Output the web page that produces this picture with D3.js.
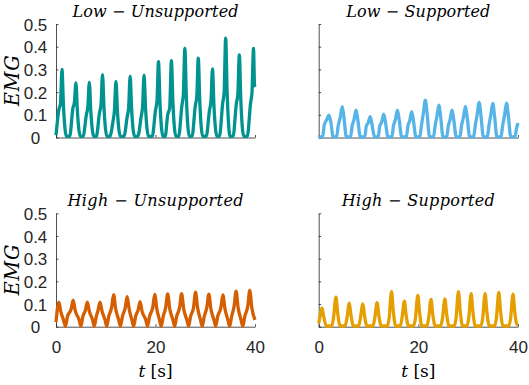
<!DOCTYPE html>
<html><head><meta charset="utf-8">
<script src="https://cdn.jsdelivr.net/npm/d3@7/dist/d3.min.js"></script>
<style>body{margin:0;background:#fff;overflow:hidden}</style>
</head><body>
<svg id="c" width="529" height="385"></svg>
<script>
// ---- data ----
const yTicks = [0, 0.1, 0.2, 0.3, 0.4, 0.5];
const xTicks = [0, 20, 40];
const panelTitles = ["Low \u2212 Unsupported", "Low \u2212 Supported", "High \u2212 Unsupported", "High \u2212 Supported"];

// [t (s), EMG]
const lowUnsupported = [
 [0,0.01],[0.6,0.125],[0.9,0.15],[1.2,0.30],[1.5,0.14],[2.1,0.005],
 [2.75,0.005],[3.4,0.13],[3.7,0.155],[4.0,0.24],[4.3,0.115],[4.9,0.005],
 [5.45,0.005],[6.1,0.10],[6.4,0.135],[6.7,0.243],[7.0,0.115],[7.6,0.005],
 [8.1,0.005],[8.75,0.11],[9.05,0.145],[9.35,0.277],[9.65,0.13],[10.25,0.005],
 [10.8,0.005],[11.45,0.07],[11.75,0.12],[12.05,0.247],[12.35,0.115],[12.95,0.005],
 [13.65,0.005],[14.3,0.09],[14.6,0.13],[14.9,0.27],[15.2,0.125],[15.8,0.005],
 [16.45,0.005],[17.1,0.09],[17.4,0.135],[17.7,0.275],[18.0,0.13],[18.6,0.005],
 [19.35,0.005],[20.0,0.12],[20.3,0.16],[20.6,0.334],[20.9,0.155],[21.5,0.005],
 [21.95,0.005],[22.45,0.10],[22.85,0.13],[23.2,0.338],[23.5,0.155],[24.1,0.005],
 [24.65,0.005],[25.3,0.14],[25.6,0.19],[25.9,0.392],[26.2,0.18],[26.8,0.005],
 [27.35,0.005],[28.0,0.14],[28.3,0.18],[28.6,0.35],[28.9,0.16],[29.5,0.005],
 [30.2,0.005],[30.85,0.12],[31.15,0.16],[31.45,0.302],[31.75,0.14],[32.35,0.005],
 [32.85,0.005],[33.5,0.15],[33.8,0.2],[34.1,0.438],[34.4,0.2],[35.0,0.005],
 [35.6,0.005],[36.25,0.15],[36.55,0.19],[36.85,0.364],[37.15,0.165],[37.75,0.005],
 [38.45,0.005],[39.1,0.15],[39.4,0.2],[39.7,0.392],[39.9,0.23],[40.0,0.222]
];
const lowSupported = [
 [0,0.003],[0.8,0.003],[1.1,0.055],[1.6,0.078],[2.05,0.098],[2.45,0.065],[2.9,0.003],
 [3.6,0.003],[3.9,0.05],[4.32,0.088],[4.72,0.136],[5.07,0.088],[5.55,0.003],
 [6.4,0.003],[6.7,0.05],[7.09,0.079],[7.49,0.121],[7.84,0.079],[8.35,0.003],
 [9.25,0.003],[9.55,0.05],[9.93,0.064],[10.33,0.092],[10.68,0.06],[11.2,0.003],
 [11.95,0.003],[12.25,0.05],[12.65,0.068],[13.05,0.103],[13.4,0.067],[13.9,0.003],
 [14.7,0.003],[15.0,0.05],[15.4,0.079],[15.8,0.121],[16.15,0.079],[16.65,0.003],
 [17.6,0.003],[17.9,0.05],[18.27,0.074],[18.67,0.114],[19.02,0.074],[19.5,0.003],
 [20.3,0.003],[20.6,0.05],[21.0,0.107],[21.4,0.165],[21.75,0.107],[22.25,0.003],
 [23.05,0.003],[23.35,0.05],[23.72,0.092],[24.12,0.142],[24.47,0.092],[24.95,0.003],
 [25.7,0.003],[26.0,0.05],[26.36,0.078],[26.76,0.12],[27.11,0.078],[27.6,0.003],
 [28.35,0.003],[28.65,0.05],[29.05,0.089],[29.45,0.137],[29.8,0.089],[30.3,0.003],
 [31.1,0.003],[31.4,0.05],[31.8,0.1],[32.2,0.155],[32.55,0.1],[33.05,0.003],
 [33.85,0.003],[34.15,0.05],[34.53,0.098],[34.93,0.15],[35.28,0.098],[35.77,0.003],
 [36.6,0.003],[36.9,0.05],[37.3,0.098],[37.7,0.151],[38.05,0.098],[38.55,0.003],
 [39.4,0.003],[39.7,0.04],[40.0,0.064]
];
const highUnsupported = [
 [0,0.02],[0.57,0.108],[0.95,0.068],[1.5,0.03],[1.9,0.002],
 [2.3,0.045],[3.05,0.078],[3.45,0.117],[3.85,0.072],[4.65,0.03],[5.0,0.002],
 [5.4,0.045],[5.9,0.072],[6.3,0.108],[6.7,0.068],[7.35,0.03],[7.7,0.002],
 [8.1,0.045],[8.45,0.072],[8.84,0.108],[9.25,0.068],[9.85,0.03],[10.2,0.002],
 [10.6,0.045],[11.18,0.085],[11.58,0.141],[11.98,0.08],[12.6,0.03],[12.95,0.002],
 [13.35,0.045],[13.9,0.082],[14.3,0.133],[14.7,0.078],[15.25,0.03],[15.6,0.002],
 [16.0,0.045],[16.5,0.073],[16.9,0.111],[17.3,0.068],[18.05,0.03],[18.4,0.002],
 [18.8,0.045],[19.45,0.085],[19.85,0.142],[20.25,0.08],[20.8,0.03],[21.15,0.002],
 [21.55,0.045],[22.05,0.085],[22.45,0.145],[22.85,0.08],[23.5,0.03],[23.85,0.002],
 [24.25,0.045],[24.85,0.085],[25.25,0.146],[25.65,0.08],[26.3,0.03],[26.65,0.002],
 [27.05,0.045],[27.65,0.085],[28.05,0.152],[28.45,0.085],[29.05,0.03],[29.4,0.002],
 [29.8,0.045],[30.32,0.085],[30.72,0.144],[31.12,0.08],[31.75,0.03],[32.1,0.002],
 [32.5,0.045],[33.15,0.085],[33.55,0.14],[33.95,0.08],[34.55,0.03],[34.9,0.002],
 [35.3,0.045],[35.8,0.09],[36.2,0.157],[36.6,0.085],[37.2,0.03],[37.55,0.002],
 [37.95,0.045],[38.55,0.09],[38.95,0.16],[39.35,0.085],[40.0,0.03]
];
const highSupported = [
 [0,0.015],[0.3,0.05],[0.66,0.083],[1.0,0.045],[1.55,0.003],
 [2.6,0.003],[2.95,0.035],[3.47,0.13],[3.8,0.062],[4.3,0.003],
 [5.3,0.003],[5.65,0.035],[6.15,0.104],[6.48,0.05],[6.98,0.003],
 [8.0,0.003],[8.35,0.035],[8.87,0.101],[9.2,0.048],[9.7,0.003],
 [10.88,0.003],[11.23,0.035],[11.73,0.106],[12.06,0.051],[12.56,0.003],
 [13.77,0.003],[14.12,0.035],[14.62,0.155],[14.95,0.074],[15.45,0.003],
 [16.35,0.003],[16.7,0.035],[17.2,0.113],[17.53,0.054],[18.03,0.003],
 [19.05,0.003],[19.4,0.035],[19.9,0.138],[20.23,0.066],[20.73,0.003],
 [21.7,0.003],[22.05,0.035],[22.55,0.12],[22.88,0.057],[23.38,0.003],
 [24.48,0.003],[24.83,0.035],[25.33,0.123],[25.66,0.059],[26.16,0.003],
 [27.2,0.003],[27.55,0.035],[28.05,0.155],[28.38,0.074],[28.88,0.003],
 [29.75,0.003],[30.1,0.035],[30.6,0.146],[30.93,0.07],[31.43,0.003],
 [32.55,0.003],[32.9,0.035],[33.4,0.146],[33.73,0.07],[34.23,0.003],
 [35.3,0.003],[35.65,0.035],[36.15,0.151],[36.48,0.072],[36.98,0.003],
 [38.15,0.003],[38.5,0.035],[39.0,0.144],[39.33,0.069],[39.8,0.01],[40.0,0.01]
];

// ---- layout ----
const svg = d3.select("#c");
const axisColor = "#262626";
const sansFont = "Liberation Sans, Arial, Helvetica, sans-serif";
const serifFont = "DejaVu Serif, Liberation Serif, serif";

const panels = [
  {data: lowUnsupported,  title: panelTitles[0], color: "#00938F", x0: 56,    x1: 255, yb: 137.5, yt: 24,    tl: 166, yLab: true,  xLab: false},
  {data: lowSupported,    title: panelTitles[1], color: "#56B4E9", x0: 318.7, x1: 518, yb: 137.5, yt: 24,    tl: 144, yLab: false, xLab: false},
  {data: highUnsupported, title: panelTitles[2], color: "#D55E00", x0: 56,    x1: 255, yb: 326.7, yt: 213.3, tl: 176, yLab: true,  xLab: true},
  {data: highSupported,   title: panelTitles[3], color: "#E69F00", x0: 318.7, x1: 518, yb: 326.7, yt: 213.3, tl: 153, yLab: false, xLab: true}
];

panels.forEach(p => {
  const x = d3.scaleLinear().domain([0, 40]).range([p.x0, p.x1]);
  const y = d3.scaleLinear().domain([0, 0.5]).range([p.yb, p.yt]);
  const g = svg.append("g");

  // y axis
  const ya = g.append("g").attr("transform", `translate(${p.x0},0)`)
    .call(d3.axisLeft(y).tickValues(yTicks).tickSizeInner(-2.5).tickSizeOuter(0)
      .tickFormat(d => p.yLab ? d3.format("~g")(d) : ""));
  ya.select(".domain").attr("stroke", axisColor).attr("stroke-width", 0.8);
  ya.selectAll(".tick line").attr("stroke", axisColor).attr("stroke-width", 0.8);
  ya.selectAll(".tick text").attr("x", -20.5).attr("text-anchor", "middle").attr("dy", "0.36em")
    .attr("fill", axisColor).attr("font-family", sansFont).attr("font-size", 17);

  // x axis
  const xa = g.append("g").attr("transform", `translate(0,${p.yb})`)
    .call(d3.axisBottom(x).tickValues(xTicks).tickSizeInner(-2.5).tickSizeOuter(0)
      .tickFormat(d => p.xLab ? d3.format("~g")(d) : ""));
  xa.select(".domain").attr("stroke", axisColor).attr("stroke-width", 0.8);
  xa.selectAll(".tick line").attr("stroke", axisColor).attr("stroke-width", 0.8);
  xa.selectAll(".tick text").attr("y", 26.5).attr("dy", 0)
    .attr("fill", axisColor).attr("font-family", sansFont).attr("font-size", 17);

  // data line
  const line = d3.line().x(d => x(d[0])).y(d => y(d[1])).curve(d3.curveMonotoneX);
  g.append("path").datum(p.data).attr("d", line)
    .attr("fill", "none").attr("stroke", p.color).attr("stroke-width", 3.3)
    .attr("stroke-linejoin", "round");

  // title
  g.append("text").attr("x", (p.x0 + p.x1) / 2).attr("y", p.yt - 7.5)
    .attr("text-anchor", "middle").attr("fill", "#000")
    .attr("font-family", serifFont).attr("font-style", "italic").attr("font-size", 16)
    .attr("textLength", p.tl).attr("lengthAdjust", "spacing")
    .text(p.title);

  // y label
  if (p.yLab) {
    g.append("text").attr("transform", `translate(19,${(p.yt + p.yb) / 2}) rotate(-90)`)
      .attr("text-anchor", "middle").attr("fill", "#000")
      .attr("font-family", serifFont).attr("font-style", "italic").attr("font-size", 19.5)
      .attr("textLength", 51).attr("lengthAdjust", "spacing")
      .text("EMG");
  }
  // x label
  if (p.xLab) {
    const t = g.append("text").attr("x", (p.x0 + p.x1) / 2).attr("y", 377)
      .attr("text-anchor", "middle").attr("fill", "#000")
      .attr("font-family", serifFont).attr("font-size", 17);
    t.append("tspan").attr("font-style", "italic").text("t");
    t.append("tspan").text(" [s]");
  }
});
</script>
</body></html>
